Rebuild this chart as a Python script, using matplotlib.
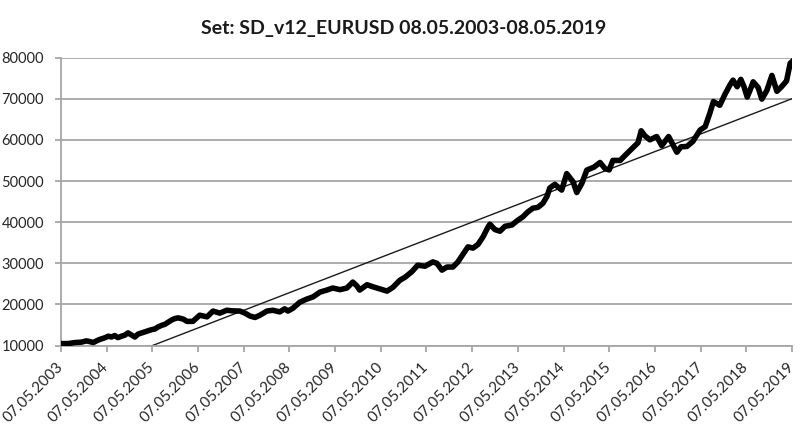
import matplotlib.pyplot as plt
from matplotlib.transforms import ScaledTranslation

# years after 07.05.2003 and balance
years = [
    0.00, 0.16, 0.31, 0.45, 0.56, 0.63, 0.71, 0.78, 0.85, 0.96,
    1.04, 1.11, 1.18, 1.25, 1.33, 1.40, 1.47, 1.55, 1.62, 1.69,
    1.77, 1.84, 1.91, 1.99, 2.06, 2.13, 2.20, 2.28, 2.35, 2.42,
    2.50, 2.57, 2.68, 2.76, 2.89, 3.04, 3.20, 3.33, 3.48, 3.63,
    3.76, 3.92, 4.03, 4.14, 4.25, 4.36, 4.51, 4.64, 4.79, 4.90,
    4.97, 5.08, 5.23, 5.38, 5.52, 5.67, 5.82, 5.95, 6.11, 6.26,
    6.39, 6.48, 6.54, 6.70, 6.83, 6.98, 7.14, 7.27, 7.42, 7.53,
    7.68, 7.81, 7.97, 8.14, 8.23, 8.34, 8.45, 8.58, 8.69, 8.80,
    8.91, 9.02, 9.13, 9.24, 9.35, 9.39, 9.50, 9.61, 9.72, 9.87,
    9.98, 10.11, 10.22, 10.33, 10.44, 10.55, 10.64, 10.70, 10.81, 10.96,
    11.07, 11.21, 11.29, 11.40, 11.51, 11.67, 11.80, 11.91, 12.00, 12.08,
    12.24, 12.39, 12.52, 12.63, 12.70, 12.78, 12.89, 13.04, 13.15, 13.30,
    13.48, 13.57, 13.70, 13.83, 13.99, 14.10, 14.20, 14.28, 14.42, 14.53,
    14.64, 14.71, 14.80, 14.88, 14.95, 15.02, 15.08, 15.15, 15.26, 15.34,
    15.45, 15.56, 15.67, 15.77, 15.88, 15.96, 16.00
]

balance = [
    10500, 10500, 10750, 10850, 11150, 11000, 10750, 11150, 11500, 11900,
    12300, 12100, 12450, 11950, 12300, 12550, 13100, 12550, 12100, 12800,
    13100, 13350, 13600, 13900, 14050, 14550, 14900, 15200, 15700, 16200,
    16600, 16750, 16450, 15900, 15900, 17400, 17000, 18400, 17900, 18600,
    18450, 18400, 17900, 17200, 16850, 17400, 18400, 18600, 18200, 18950,
    18400, 19100, 20550, 21300, 21850, 23000, 23500, 24000, 23600, 24000,
    25450, 24500, 23500, 24800, 24300, 23800, 23250, 24200, 25900, 26600,
    27950, 29550, 29300, 30350, 30000, 28350, 29100, 29100, 30350, 32200,
    34000, 33700, 34600, 36450, 38850, 39500, 38200, 37800, 39000, 39300,
    40300, 41300, 42500, 43400, 43600, 44600, 46300, 48300, 49200, 47800,
    51800, 49800, 47200, 49400, 52650, 53400, 54500, 53000, 52700, 55000,
    55000, 56700, 58100, 59300, 62200, 61000, 60000, 60800, 58600, 60800,
    57000, 58300, 58400, 59600, 62400, 63200, 66400, 69300, 68400, 71000,
    73300, 74500, 72900, 74700, 72900, 70400, 72000, 74100, 72700, 69900,
    72000, 75650, 71800, 72900, 74300, 78600, 79000
]

# linear trend line end points
trend_years = [0, 16]
trend_balance = [1430, 70000]

tick_years = list(range(0, 17))
tick_labels = [f"07.05.{2003 + k}" for k in tick_years]

y_ticks = [10000, 20000, 30000, 40000, 50000, 60000, 70000, 80000]

plt.rcParams["font.family"] = ["Lato", "DejaVu Sans"]

fig = plt.figure(
    figsize=(8.0, 4.46),
    dpi=100
)

ax = fig.add_axes(
    [0.076, 0.225, 0.914, 0.646]
)

ax.plot(
    trend_years,
    trend_balance,
    color="#1a1a1a",
    linewidth=1.0,
    zorder=2
)

ax.plot(
    years,
    balance,
    color="black",
    linewidth=4.0,
    solid_joinstyle="round",
    zorder=3
)

ax.set_xlim(0, 16)
ax.set_ylim(10000, 80000)

ax.set_yticks(y_ticks)
ax.set_yticklabels(
    [str(v) for v in y_ticks],
    fontsize=10.5,
    color="#262626"
)

ax.set_xticks(tick_years)
ax.set_xticklabels(
    tick_labels,
    rotation=45,
    ha="right",
    va="center",
    rotation_mode="anchor",
    fontsize=11,
    color="#262626"
)

# nudge the slanted date labels a little right, like the reference
shift = ScaledTranslation(5 / 100, -3 / 100, fig.dpi_scale_trans)
for label in ax.get_xticklabels():
    label.set_transform(label.get_transform() + shift)

ax.grid(
    True,
    axis="y",
    color="#a6a6a6",
    linewidth=1.3
)
ax.set_axisbelow(True)

for side in ["top", "right"]:
    ax.spines[side].set_visible(False)

for side in ["left", "bottom"]:
    ax.spines[side].set_color("#a6a6a6")
    ax.spines[side].set_linewidth(1.3)

ax.tick_params(
    axis="both",
    color="#a6a6a6",
    width=1.3,
    length=4
)
ax.tick_params(axis="x", pad=10)
ax.tick_params(axis="y", pad=8)

fig.suptitle(
    "Set: SD_v12_EURUSD 08.05.2003-08.05.2019",
    x=0.505,
    y=0.955,
    fontsize=14,
    fontweight="bold",
    color="#1a1a1a"
)

fig.savefig("out.png", dpi=100)
